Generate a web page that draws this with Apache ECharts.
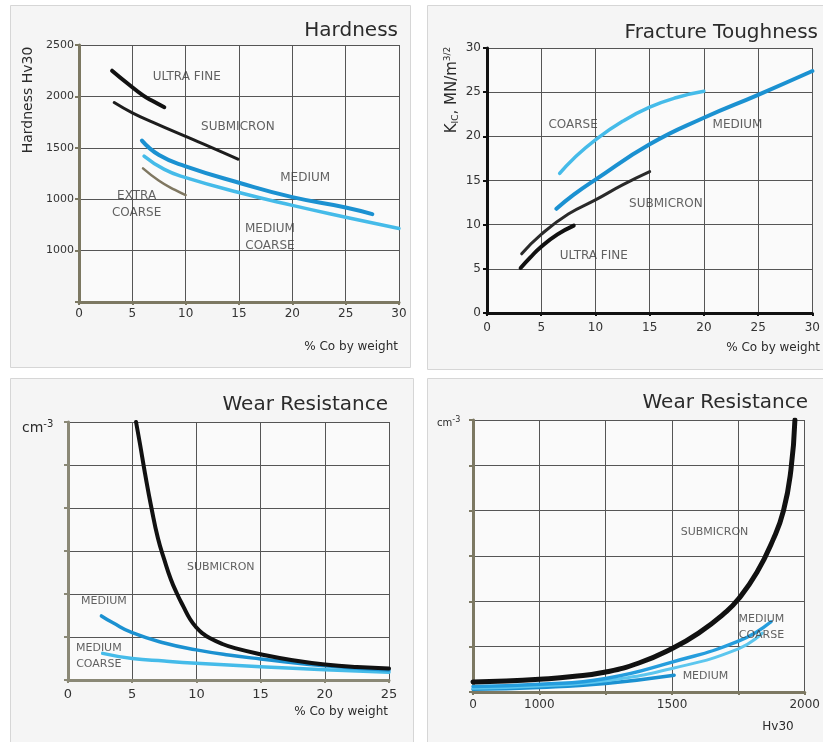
<!DOCTYPE html>
<html><head><meta charset="utf-8">
<script src="https://cdn.jsdelivr.net/npm/echarts@6/dist/echarts.min.js"></script>
<style>html,body{margin:0;padding:0;background:#fff}#c{width:823px;height:742px}</style>
</head><body><div id="c"></div>
<script>
// ---------- DATA ----------
// Panel 1: Hardness (x = % Co by weight, y = Hv30)
const hardUltraFine     = [[3.1,2250],[4.5,2130],[6,2010],[7,1950],[8,1895]];
const hardSubmicron     = [[3.3,1940],[5,1840],[7,1745],[10,1610],[12.5,1500],[14.9,1390]];
const hardMedium        = [[5.9,1570],[7.5,1430],[10,1320],[15,1160],[20,1020],[25,920],[27.5,855]];
const hardMediumCoarse  = [[6.1,1420],[8,1290],[10,1210],[15,1065],[20,940],[25,825],[30,715]];
const hardExtraCoarse   = [[6,1300],[7.5,1180],[9,1090],[10,1040]];
const hardXTicks = ['0','5','10','15','20','25','30'];
const hardYTicks = ['', '1000', '1000', '1500', '2000', '2500'];
const hardLabels = [['ULTRA FINE',10.1,2189],['SUBMICRON',14.9,1702],['MEDIUM',21.2,1206],['EXTRA\nCOARSE',5.4,953],['MEDIUM\nCOARSE',17.9,632]];

// Panel 2: Fracture toughness (x = % Co by weight, y = KIC MN/m^3/2)
const ftUltraFine = [[3.1,5.1],[4,6.3],[5,7.5],[6.5,8.9],[8,9.9]];
const ftSubmicron = [[3.2,6.7],[5,8.9],[7.5,11.2],[10,12.8],[12.5,14.5],[15,16]];
const ftCoarse    = [[6.7,15.8],[8,17.5],[10,19.6],[12.5,21.7],[15,23.3],[17.5,24.4],[20,25.1]];
const ftMedium    = [[6.4,11.8],[8,13.4],[10,15.1],[15,19.1],[20,22.1],[25,24.7],[30,27.4]];
const ftXTicks = ['0','5','10','15','20','25','30'];
const ftYTicks = ['0','5','10','15','20','25','30'];
const ftLabels = [['COARSE',7.94,21.3],['MEDIUM',23.1,21.3],['SUBMICRON',16.5,12.4],['ULTRA FINE',9.85,6.5]];

// Panel 3: Wear resistance vs % Co (y = relative cm-3, unlabeled grid units)
const wrCoSubmicron     = [[5.3,6.0],[5.6,5.5],[6,4.8],[6.5,4.0],[7,3.3],[7.5,2.8],[8,2.35],[8.5,2.0],[9,1.7],[9.5,1.42],[10,1.22],[10.5,1.08],[11,0.98],[12,0.84],[13,0.74],[15,0.6],[17.5,0.46],[20,0.36],[22.5,0.3],[25,0.27]];
const wrCoMedium        = [[2.6,1.49],[3.5,1.33],[5,1.1],[7.5,0.86],[10,0.7],[12.5,0.58],[15,0.49],[20,0.33],[25,0.23]];
const wrCoMediumCoarse  = [[2.7,0.62],[5,0.5],[7.5,0.44],[10,0.39],[15,0.31],[20,0.24],[25,0.18]];
const wrCoXTicks = ['0','5','10','15','20','25'];
const wrCoLabels = [['SUBMICRON',11.9,2.62],['MEDIUM',2.8,1.84],['MEDIUM\nCOARSE',2.4,0.56]];

// Panel 4: Wear resistance vs Hv30 (first grid interval is a broken 0-1000 segment)
const wrHvSubmicron     = [[750,0.22],[875,0.24],[1000,0.28],[1125,0.34],[1250,0.44],[1375,0.64],[1500,0.96],[1600,1.3],[1700,1.75],[1750,2.05],[1820,2.64],[1880,3.35],[1920,4.0],[1948,4.9],[1963,6.0]];
const wrHvMediumCoarse  = [[750,0.12],[1000,0.17],[1250,0.3],[1500,0.66],[1750,1.12],[1873,1.55]];
const wrHvMediumCoarse2 = [[750,0.08],[1000,0.13],[1250,0.25],[1500,0.52],[1750,0.95],[1840,1.3]];
const wrHvMedium        = [[750,0.06],[1000,0.1],[1250,0.19],[1508,0.37]];
const wrHvXTicks = ['0','1000','','1500','','2000'];
const wrHvLabels = [['SUBMICRON',1660,3.53],['MEDIUM\nCOARSE',1837,1.42],['MEDIUM',1626,0.35]];

// ---------- STYLE ----------
const FONT = '"DejaVu Sans", sans-serif';
const BLACK = '#111111', DARKBLUE = '#1b91d1', LIGHTBLUE = '#45bbe9', OLIVE = '#7c7862';
const GRIDC = '#555555';

function xAx(gi, min, max, interval, ticks, axisColor, margin, fs) {
  return {
    type:'value', gridIndex:gi, min:min, max:max, interval:interval,
    axisLine:{show:true, onZero:false, lineStyle:{color:axisColor, width:3}},
    axisTick:{show:true, length:3, lineStyle:{color:axisColor, width:2}},
    splitLine:{show:true, lineStyle:{color:GRIDC, width:1}},
    axisLabel:{show:true, margin:margin, color:'#333', fontFamily:FONT, fontSize:fs,
      formatter:function(v){ const i=Math.round((v-min)/interval); return ticks[i]!==undefined?ticks[i]:''; }}
  };
}
function yAx(gi, min, max, interval, ticks, axisColor, margin, fs) {
  return {
    type:'value', gridIndex:gi, min:min, max:max, interval:interval,
    axisLine:{show:true, onZero:false, lineStyle:{color:axisColor, width:3}},
    axisTick:{show:true, length:4, lineStyle:{color:axisColor, width:2}},
    splitLine:{show:true, lineStyle:{color:GRIDC, width:1}},
    axisLabel:{show:!!ticks, margin:margin, color:'#333', fontFamily:FONT, fontSize:fs,
      formatter:function(v){ if(!ticks) return ''; const i=Math.round((v-min)/interval); return ticks[i]!==undefined?ticks[i]:''; }}
  };
}
function line(gi, data, color, width, z) {
  return {type:'line', xAxisIndex:gi, yAxisIndex:gi, data:data, smooth:0.5, symbol:'none',
    lineStyle:{color:color, width:width, cap:'round', join:'round'}, z:z||3, silent:true};
}
function labels(gi, arr, fs) {
  return {type:'scatter', xAxisIndex:gi, yAxisIndex:gi, symbolSize:0, z:5, silent:true,
    data: arr.map(a=>({name:a[0], value:[a[1],a[2]]})),
    label:{show:true, position:'inside', formatter:'{b}', color:'#3a3a3a', fontFamily:FONT,
      fontSize:fs, lineHeight:fs+5, align:'center'}};
}

const panelRects = [[10,5,400,362],[427,5,400,364],[10,378,403,370],[427,378,400,370]];
const graphic = [];
panelRects.forEach(r=>graphic.push({type:'rect', shape:{x:r[0]+0.5,y:r[1]+0.5,width:r[2],height:r[3]},
  style:{fill:'#f5f5f5', stroke:'#d6d6d6', lineWidth:1}, z:-10, silent:true}));
function txt(x,y,text,fs,align,extra){
  return Object.assign({type:'text', x:x, y:y, silent:true, z:10,
    style:{text:text, fill:'#2b2b2b', font:fs+'px '+FONT, textAlign:align||'left', textVerticalAlign:'middle'}}, extra||{});
}
graphic.push(txt(398,31,'Hardness',20,'right'));
graphic.push(txt(818,33,'Fracture Toughness',20,'right'));
graphic.push(txt(388,405,'Wear Resistance',20,'right'));
graphic.push(txt(808,403,'Wear Resistance',20,'right'));
graphic.push(txt(398,347,'% Co by weight',12,'right'));
graphic.push(txt(820,348,'% Co by weight',12,'right'));
graphic.push(txt(388,712,'% Co by weight',12,'right'));
graphic.push(txt(778,727,'Hv30',12,'center'));
graphic.push(txt(28,100,'Hardness Hv30',14,'center',{rotation:Math.PI/2}));
graphic.push({type:'text', x:452, y:90, rotation:Math.PI/2, silent:true, z:10,
  style:{text:'{a|K}{s|IC}{a|, MN/m}{p|3/2}', textAlign:'center', textVerticalAlign:'middle',
    rich:{a:{font:'15px '+FONT, fill:'#2b2b2b'}, s:{font:'9px '+FONT, fill:'#2b2b2b', verticalAlign:'bottom', padding:[6,0,0,0]},
          p:{font:'9px '+FONT, fill:'#2b2b2b', verticalAlign:'top', padding:[0,0,8,0]}}}});
graphic.push({type:'text', x:22, y:428, silent:true, z:10,
  style:{text:'{a|cm}{p|-3}', textVerticalAlign:'middle',
    rich:{a:{font:'14px '+FONT, fill:'#2b2b2b'}, p:{font:'10px '+FONT, fill:'#2b2b2b', padding:[0,0,8,0]}}}});
graphic.push({type:'text', x:437, y:423, silent:true, z:10,
  style:{text:'{a|cm}{p|-3}', textVerticalAlign:'middle',
    rich:{a:{font:'10px '+FONT, fill:'#2b2b2b'}, p:{font:'8px '+FONT, fill:'#2b2b2b', padding:[0,0,6,0]}}}});

const option = {
  animation:false,
  backgroundColor:'#ffffff',
  grid:[
    {left:79, top:45, width:320, height:257, show:true, backgroundColor:'#fafafa', borderWidth:0},
    {left:487, top:48, width:330, height:265, show:true, backgroundColor:'#fafafa', borderWidth:0},
    {left:68, top:422, width:321, height:258, show:true, backgroundColor:'#fafafa', borderWidth:0},
    {left:473, top:420, width:335, height:272, show:true, backgroundColor:'#fafafa', borderWidth:0}
  ],
  xAxis:[
    xAx(0,0,30,5,hardXTicks,OLIVE,6,12),
    xAx(1,0,30,5,ftXTicks,BLACK,9,12),
    xAx(2,0,25,5,wrCoXTicks,'#8a8876',8,13),
    xAx(3,750,2000,250,wrHvXTicks,OLIVE,7,12)
  ],
  yAxis:[
    yAx(0,0,2500,500,hardYTicks,OLIVE,5,11),
    yAx(1,0,30,5,ftYTicks,BLACK,6,12),
    yAx(2,0,6,1,null,'#8a8876',6,11),
    yAx(3,0,6,1,null,OLIVE,6,11)
  ],
  series:[
    line(0,hardMediumCoarse,LIGHTBLUE,3.5),
    line(0,hardMedium,DARKBLUE,4),
    line(0,hardExtraCoarse,'#7f7761',2.5),
    line(0,hardSubmicron,'#1d1d1d',3),
    line(0,hardUltraFine,BLACK,4),
    labels(0,hardLabels,12),

    line(1,ftCoarse,LIGHTBLUE,3.5),
    line(1,ftMedium,DARKBLUE,4),
    line(1,ftSubmicron,'#2a2a2a',3),
    line(1,ftUltraFine,BLACK,4),
    labels(1,ftLabels,12),

    line(2,wrCoMediumCoarse,LIGHTBLUE,3.5),
    line(2,wrCoMedium,DARKBLUE,3.5),
    line(2,wrCoSubmicron,BLACK,4),
    labels(2,wrCoLabels,11),

    line(3,wrHvMedium,DARKBLUE,3.5),
    line(3,wrHvMediumCoarse2,'#5cc6ee',3),
    line(3,wrHvMediumCoarse,'#259ddd',3.5),
    line(3,wrHvSubmicron,BLACK,5),
    labels(3,wrHvLabels,11)
  ],
  graphic:graphic
};
const chart = echarts.init(document.getElementById('c'));
chart.setOption(option);
</script>
</body></html>
